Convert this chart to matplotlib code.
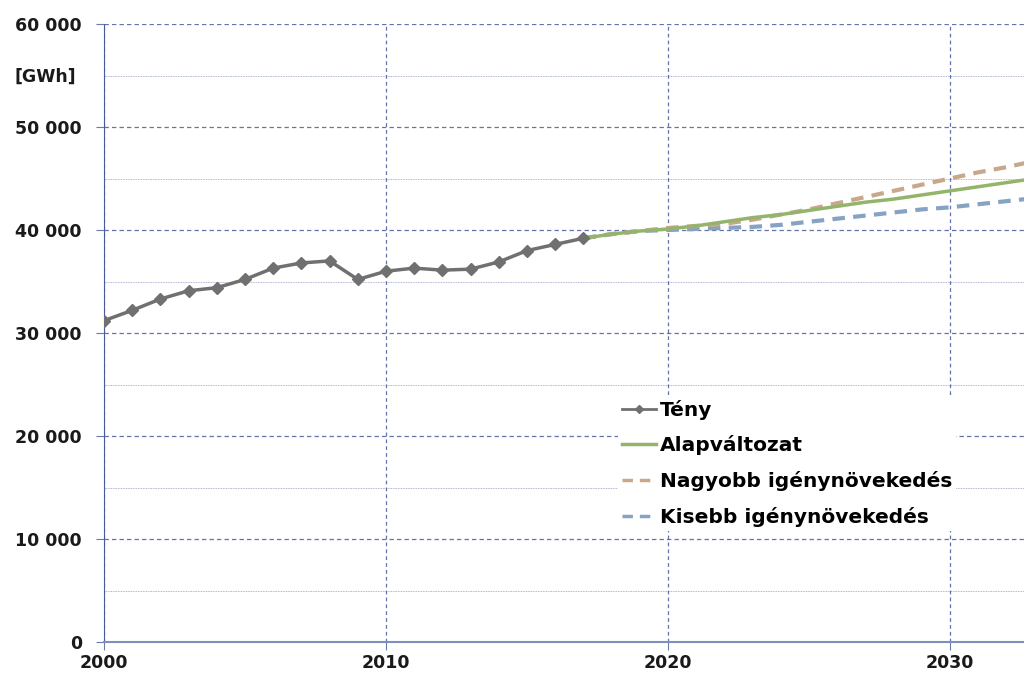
import matplotlib.pyplot as plt
from matplotlib.lines import Line2D
from matplotlib.ticker import FuncFormatter, MultipleLocator

# historical consumption, GWh
teny_years = list(range(2000, 2018))
teny = [31200, 32200, 33300, 34100, 34400, 35200, 36300, 36800, 37000,
        35200, 36000, 36300, 36100, 36200, 36900, 38000, 38600, 39200]

# scenarios
proj_years = list(range(2017, 2034))
alap = [39200, 39600, 39900, 40100, 40400, 40800, 41200, 41500, 41900,
        42300, 42700, 43000, 43400, 43800, 44200, 44600, 45000]
nagyobb = [39200, 39600, 39900, 40200, 40400, 40600, 41000, 41500, 42000,
           42600, 43200, 43800, 44400, 45000, 45600, 46100, 46700]
kisebb = [39200, 39600, 39900, 40000, 40100, 40200, 40300, 40500, 40800,
          41100, 41400, 41700, 42000, 42200, 42500, 42800, 43100]

labels = ['Tény', 'Alapváltozat', 'Nagyobb igénynövekedés', 'Kisebb igénynövekedés']

grey = '#707070'
green = '#93b56b'
tan = '#c9a78a'
blue = '#86a3c3'
gridc = '#4a5b9a'

plt.rcParams['font.family'] = ['DejaVu Sans']
plt.rcParams['font.weight'] = 'bold'

fig = plt.figure(figsize=(10.24, 6.83), dpi=100)
ax = fig.add_axes([104 / 1024, 41 / 683, 920 / 1024, 618 / 683])

ax.plot(proj_years, kisebb, color=blue, lw=3, dashes=(3, 2), zorder=3)
ax.plot(proj_years, nagyobb, color=tan, lw=3, dashes=(3, 2), zorder=3)
ax.plot(proj_years, alap, color=green, lw=2.5, zorder=3)
ax.plot(teny_years, teny, color=grey, lw=2.5, marker='D', ms=6, zorder=4)

ax.set_xlim(2000, 2000 + 920 / 28.2)
ax.set_ylim(0, 60000)
ax.xaxis.set_major_locator(MultipleLocator(10))
ax.yaxis.set_major_locator(MultipleLocator(10000))
ax.yaxis.set_minor_locator(MultipleLocator(5000))
ax.yaxis.set_major_formatter(FuncFormatter(lambda v, p: f'{int(v):,}'.replace(',', ' ')))

ax.grid(axis='y', which='major', color=gridc, lw=0.9, dashes=(3.5, 2.5), alpha=0.85)
ax.grid(axis='y', which='minor', color=gridc, lw=0.6, dashes=(1, 1), alpha=0.6)
ax.grid(axis='x', which='major', color=gridc, lw=0.9, dashes=(3, 2.5), alpha=0.85)
ax.set_axisbelow(True)

for s in ['top', 'right']:
    ax.spines[s].set_visible(False)
ax.spines['left'].set_color('#4a5a9a')
ax.spines['bottom'].set_color('#7d8fbd')
ax.spines['bottom'].set_linewidth(1.5)

ax.tick_params(axis='both', which='major', labelsize=12.5, labelcolor='#1a1a1a',
               color='#6a7ab0', length=6)
ax.tick_params(axis='y', which='minor', length=0)
ax.tick_params(axis='y', pad=10)
ax.tick_params(axis='x', pad=3)

fig.text(14 / 1024, 1 - 77 / 683, '[GWh]', fontsize=12.5, fontweight='bold',
         color='#1a1a1a', va='center')

handles = [
    Line2D([], [], color=grey, lw=2, marker='D', ms=4),
    Line2D([], [], color=green, lw=2.5),
    Line2D([], [], color=tan, lw=2.5, dashes=(3, 2)),
    Line2D([], [], color=blue, lw=2.5, dashes=(3, 2)),
]
leg = ax.legend(handles, labels, loc='upper left', bbox_to_anchor=(0.548, 0.415),
                frameon=True, fontsize=14.5, handlelength=1.7, handletextpad=0.15,
                labelspacing=0.78, borderpad=0.2, fancybox=False)
leg.get_frame().set_facecolor('white')
leg.get_frame().set_edgecolor('none')
leg.get_frame().set_alpha(1)
leg.set_zorder(5)

fig.savefig('out.png', dpi=100)
